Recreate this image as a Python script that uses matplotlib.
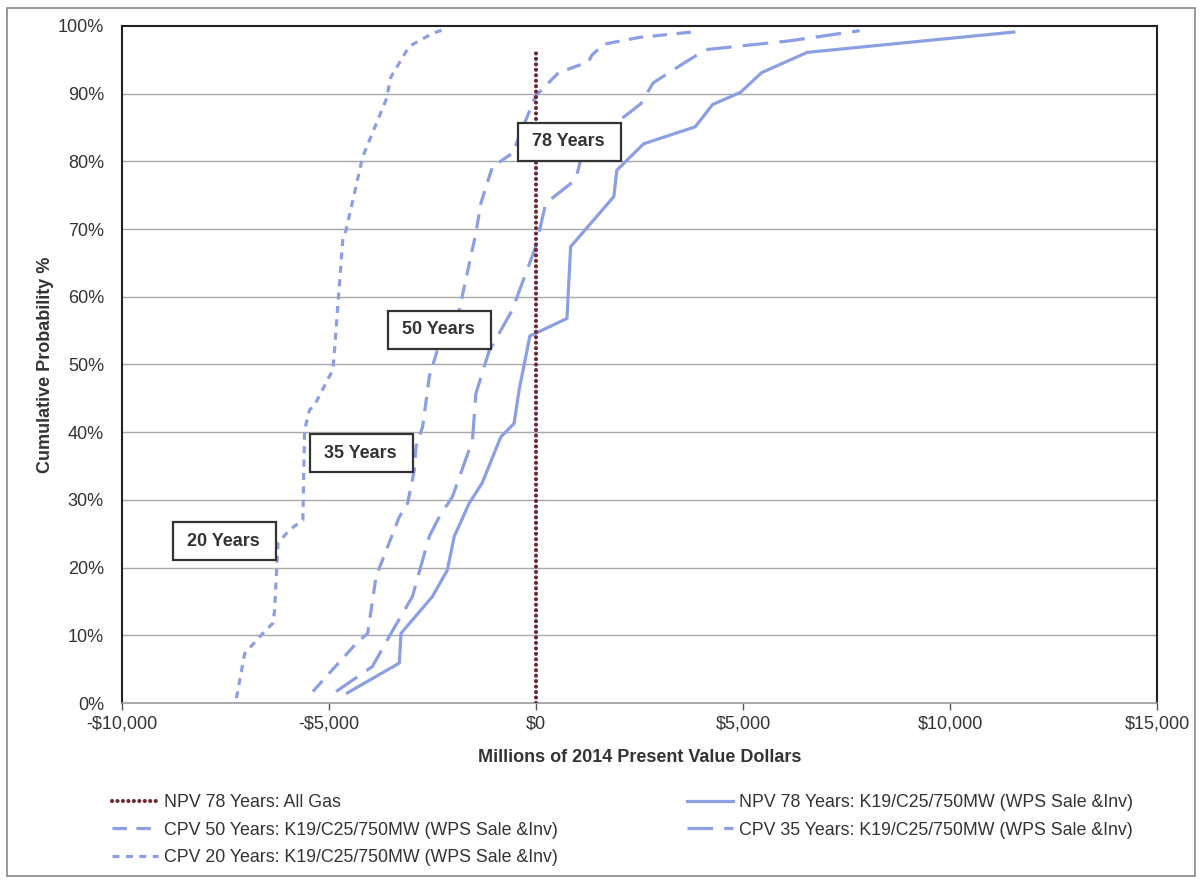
import matplotlib
matplotlib.use("Agg")
import matplotlib.pyplot as plt
from matplotlib.lines import Line2D
from matplotlib.patches import Rectangle

FONT = ["Liberation Sans", "DejaVu Sans"]
plt.rcParams["font.family"] = FONT

# ---------------- data (millions of 2014 PV $, cumulative probability %) ----------------
npv78_x = [-4555, -3302, -3261, -2506, -2145, -1976, -1615, -1301, -851, -530, -410, -217,
           -150, 747, 836, 1880, 1952, 2600, 3844, 4266, 4940, 5447, 6550, 11540]
npv78_y = [1.5, 5.9, 10.3, 15.7, 19.6, 24.6, 29.5, 32.5, 39.3, 41.3, 46.2, 52.1,
           54.2, 56.8, 67.4, 74.8, 78.7, 82.6, 85.1, 88.4, 90.2, 93.1, 96.1, 99.1]

cpv35_x = [-4828, -3952, -3502, -2988, -2579, -2338, -2017, -1535, -1453, -1133, -578, -7,
           234, 957, 1077, 2024, 2530, 2830, 3543, 4097, 5027, 6121, 7818]
cpv35_y = [1.7, 5.4, 10.3, 15.7, 24.6, 27.5, 30.5, 38.8, 45.7, 52.0, 58.0, 67.4,
           73.8, 77.3, 80.2, 86.1, 88.5, 91.6, 94.4, 96.5, 97.1, 97.8, 99.3]

cpv50_x = [-5391, -4345, -4066, -3864, -3302, -3102, -2940, -2899, -2740, -2620, -2579,
           -2379, -1856, -1453, -1333, -1053, -571, -7, 545, 1265, 1350, 1640, 2480, 3760]
cpv50_y = [1.7, 8.8, 10.3, 18.7, 27.5, 29.5, 34.4, 37.9, 40.8, 46.2, 48.2,
           52.2, 58.0, 69.4, 73.8, 79.2, 81.2, 89.7, 93.1, 94.7, 95.7, 97.3, 98.3, 99.1]

cpv20_x = [-7237, -7037, -6676, -6355, -6314, -6234, -5953, -5632, -5591, -5471, -5350,
           -4909, -4868, -4668, -4587, -4186, -3622, -3502, -3061, -2499, -2217]
cpv20_y = [0.7, 7.3, 9.8, 11.8, 13.7, 23.6, 25.6, 27.0, 40.3, 43.3, 44.0,
           49.2, 52.1, 68.4, 69.9, 80.7, 89.1, 92.5, 97.0, 98.9, 99.5]

gas_x = [0, 0]
gas_y = [0, 96.3]

legend_labels = [
    "NPV 78 Years: All Gas",
    "CPV 50 Years: K19/C25/750MW (WPS Sale &Inv)",
    "CPV 20 Years: K19/C25/750MW (WPS Sale &Inv)",
    "NPV 78 Years: K19/C25/750MW (WPS Sale &Inv)",
    "CPV 35 Years: K19/C25/750MW (WPS Sale &Inv)",
]

box_labels = ["78 Years", "50 Years", "35 Years", "20 Years"]
box_cx = [807, -2338, -4218, -7531]
box_cy = [82.9, 55.1, 36.9, 23.9]

x_ticks = [-10000, -5000, 0, 5000, 10000, 15000]
x_ticklabels = ["-$10,000", "-$5,000", "$0", "$5,000", "$10,000", "$15,000"]
y_ticks = list(range(0, 101, 10))
y_ticklabels = [f"{v}%" for v in y_ticks]

# ---------------- figure ----------------
BLUE = "#8c9fe3"
MAROON = "#6e2b36"
TXT = "#333333"

fig = plt.figure(figsize=(12.01, 8.8), dpi=100)
ax = fig.add_axes([0.1016, 0.2011, 0.8618, 0.7694])

ax.set_xlim(-10000, 15000)
ax.set_ylim(0, 100)

for y in y_ticks[1:-1]:
    ax.axhline(y, color="#a8a8a8", lw=1.0, zorder=0)

lw = 2.3
DOT = (0, (0.01, 1.3))
l20, = ax.plot(cpv20_x, cpv20_y, color=BLUE, lw=lw, dashes=(2.2, 2.0), zorder=2)
l50, = ax.plot(cpv50_x, cpv50_y, color=BLUE, lw=lw, dashes=(4.5, 3.0), zorder=2)
l35, = ax.plot(cpv35_x, cpv35_y, color=BLUE, lw=lw, dashes=(8.0, 3.5), zorder=2)
l78, = ax.plot(npv78_x, npv78_y, color=BLUE, lw=lw, zorder=2)
lgas, = ax.plot(gas_x, gas_y, color=MAROON, lw=3.0, linestyle=DOT,
                dash_capstyle="round", zorder=3)

# annotation boxes
bw, bh = 2482, 5.6
for lab, cx, cy in zip(box_labels, box_cx, box_cy):
    ax.add_patch(Rectangle((cx - bw / 2, cy - bh / 2), bw, bh, facecolor="white",
                           edgecolor=TXT, lw=1.6, zorder=4))
    ax.text(cx - bw / 2 + 340, cy, lab, ha="left", va="center", fontsize=13,
            fontweight="bold", color=TXT, zorder=5)

ax.set_xticks(x_ticks)
ax.set_xticklabels(x_ticklabels, fontsize=13, color=TXT)
ax.set_yticks(y_ticks)
ax.set_yticklabels(y_ticklabels, fontsize=13, color=TXT)
ax.tick_params(axis="x", length=5, width=1, color="#555555", pad=4)
ax.tick_params(axis="y", length=0, pad=13)

for s in ["left", "right", "top"]:
    ax.spines[s].set_color("#222222")
    ax.spines[s].set_linewidth(1.5)
ax.spines["bottom"].set_color("#999999")
ax.spines["bottom"].set_linewidth(1.2)

ax.set_xlabel("Millions of 2014 Present Value Dollars", fontsize=13, fontweight="bold",
              color=TXT, labelpad=12)
ax.set_ylabel("Cumulative Probability %", fontsize=13, fontweight="bold",
              color=TXT, labelpad=3)

# legends
h_gas = Line2D([], [], color=MAROON, lw=3.0, linestyle=DOT, dash_capstyle="round")
h50 = Line2D([], [], color=BLUE, lw=lw, dashes=(4.5, 3.0))
h20 = Line2D([], [], color=BLUE, lw=lw, dashes=(2.2, 2.0))
h78 = Line2D([], [], color=BLUE, lw=lw)
h35 = Line2D([], [], color=BLUE, lw=lw, dashes=(8.0, 3.5))

common = dict(frameon=False, fontsize=12.8, handlelength=2.6, handletextpad=0.3,
              labelspacing=0.6, borderpad=0, borderaxespad=0, loc="upper left",
              labelcolor=TXT)
fig.legend([h_gas, h50, h20], legend_labels[:3], bbox_to_anchor=(112 / 1201, 1 - 794 / 880),
           **common)
fig.legend([h78, h35], legend_labels[3:], bbox_to_anchor=(687 / 1201, 1 - 794 / 880),
           **common)

# outer frame
fig.add_artist(Rectangle((7 / 1201, 4 / 880), 1 - 13 / 1201, 1 - 12 / 880,
                         transform=fig.transFigure, fill=False, edgecolor="#888888", lw=1.2))

fig.savefig("out.png", dpi=100, facecolor="white")
